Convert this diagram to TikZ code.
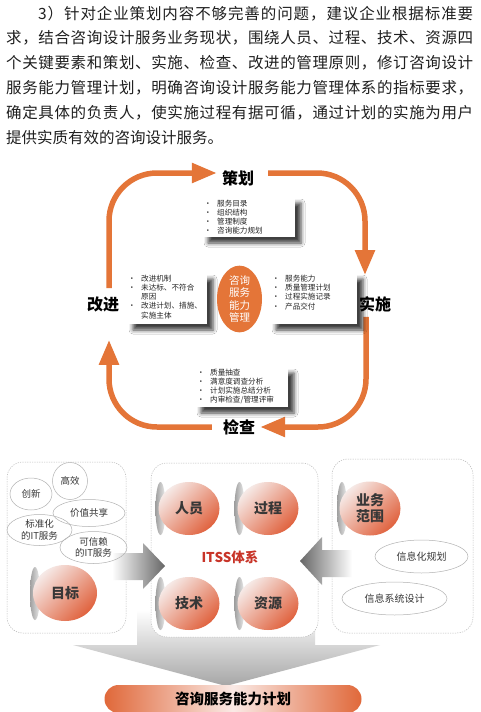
\documentclass[tikz,border=0pt]{standalone}
\usepackage{fontspec}
\setmainfont{Noto Sans CJK SC}
\usetikzlibrary{shapes.geometric,arrows.meta,shadows.blur}
\definecolor{org}{RGB}{228,117,56}
\definecolor{bubA}{RGB}{246,234,231}
\definecolor{bubB}{RGB}{224,98,62}
\definecolor{darktext}{RGB}{55,55,55}
\definecolor{itssred}{RGB}{200,52,40}
\definecolor{pillEnd}{RGB}{224,104,58}
\definecolor{pillMid}{RGB}{250,234,230}
\newcommand\cjkglue{\hskip0pt plus 1pt\relax}
\XeTeXinterchartoks 0 1 = {\cjkglue}
\XeTeXinterchartoks 1 0 = {\cjkglue}
\XeTeXinterchartoks 1 1 = {\cjkglue}
\XeTeXinterchartoks 1 2 = {\cjkglue}
\XeTeXinterchartoks 1 3 = {\cjkglue}
\XeTeXinterchartoks 2 1 = {\cjkglue}
\XeTeXinterchartoks 3 1 = {\cjkglue}
\XeTeXinterchartoks 0 3 = {\cjkglue}
\XeTeXinterchartoks 3 0 = {\cjkglue}
\XeTeXinterchartoks 3 3 = {\cjkglue}
\XeTeXinterchartoks 0 0 = {\cjkglue}
\newcommand\parafont{\fontsize{15.5}{18}\selectfont\XeTeXinterchartokenstate=1\relax}
\newcommand\bl{\makebox[13pt][l]{\textbullet}}
\newcommand\ind{\makebox[13pt][l]{}}
\begin{document}
\begin{tikzpicture}[x=1pt,y=-1pt,
  para/.style={anchor=west, inner sep=0pt, font=\parafont, text=black!88},
  lbl/.style={font=\fontsize{16}{16}\selectfont\bfseries, inner sep=2pt, text=black},
  cyc/.style={draw=org, line width=5.5pt, rounded corners=48pt, -{Triangle[length=25pt,width=19pt]}},
  infobox/.style={fill=white, inner sep=0pt, blur shadow={shadow xshift=6pt, shadow yshift=-6pt, shadow blur radius=4pt, shadow opacity=75}},
  listtext/.style={align=left, inner sep=0pt, anchor=north west, font=\fontsize{7.6}{9.3}\selectfont, text=black!85},
  dashbox/.style={draw=gray!55, dash pattern=on 1.2pt off 1.2pt, rounded corners=16pt, fill=white, line width=0.5pt},
  oval/.style={ellipse, draw=gray!60, line width=0.5pt, inner sep=0pt, align=center, font=\fontsize{9.5}{11.5}\selectfont, text=darktext},
  bubble/.style={ellipse, minimum width=61pt, minimum height=53pt, inner sep=0pt, top color=bubA, bottom color=bubB, shading angle=45, align=center, font=\fontsize{14}{16}\selectfont\bfseries, text=darktext},
  disc/.style={ellipse, minimum width=10pt, minimum height=53pt, inner sep=0pt, left color=gray!75, right color=gray!15}
]
\useasboundingbox (0,0) rectangle (480,712);
\fill[white] (0,0) rectangle (480,712);

% paragraph
\node[para] (l1) at (38,13.3) {\makebox[435pt][s]{3）针对企业策划内容不够完善的问题，建议企业根据标准要}};
\node[para] (l2) at (6,37.8) {\makebox[467pt][s]{求，结合咨询设计服务业务现状，围绕人员、过程、技术、资源四}};
\node[para] (l3) at (6,62.5) {\makebox[467pt][s]{个关键要素和策划、实施、检查、改进的管理原则，修订咨询设计}};
\node[para] (l4) at (6,87.3) {\makebox[467pt][s]{服务能力管理计划，明确咨询设计服务能力管理体系的指标要求，}};
\node[para] (l5) at (6,112.5) {\makebox[467pt][s]{确定具体的负责人，使实施过程有据可循，通过计划的实施为用户}};
\node[para] (l6) at (6,137.5) {提供实质有效的咨询设计服务。};

% cycle labels
\node[lbl] (plan) at (238,178) {策划};
\node[lbl] (impl) at (375,304) {实施};
\node[lbl] (check) at (239,427) {检查};
\node[lbl] (improve) at (103,304) {改进};

% cycle arrows
\draw[cyc] ([xshift=6pt,yshift=6pt]improve.north) |- ([xshift=-3pt,yshift=5pt]plan.west);
\draw[cyc] ([xshift=12pt,yshift=5pt]plan.east) -| ([xshift=-10pt,yshift=19pt]impl.north);
\draw[cyc] ([xshift=-9pt,yshift=-3pt]impl.south) |- ([xshift=3pt]check.east);
\draw[cyc] ([xshift=-9pt]check.west) -| ([xshift=6pt,yshift=-26pt]improve.south);

% info boxes
\node[infobox, minimum width=93pt, minimum height=40pt] (planbox) at (248.5,217) {};
\node[listtext] (plantext) at (204,199.5) {\bl 服务目录\\\bl 组织结构\\\bl 管理制度\\\bl 咨询能力规划};
\node[infobox, minimum width=80pt, minimum height=51pt] (improvebox) at (167,298.5) {};
\node[listtext] (improvetext) at (128,274.5) {\bl 改进机制\\\bl 未达标、不符合\\\ind 原因\\\bl 改进计划、措施、\\\ind 实施主体};
\node[infobox, minimum width=87pt, minimum height=51pt] (implbox) at (313.5,298.5) {};
\node[listtext] (impltext) at (272,274.5) {\bl 服务能力\\\bl 质量管理计划\\\bl 过程实施记录\\\bl 产品交付};
\node[infobox, minimum width=93pt, minimum height=40pt] (checkbox) at (241.5,387) {};
\node[listtext] (checktext) at (197,368.5) {\bl 质量抽查\\\bl 满意度调查分析\\\bl 计划实施总结分析\\\bl 内审检查/管理评审};

% centre
\node[ellipse, fill=org, minimum width=45pt, minimum height=57pt, inner sep=0pt, text=white, align=center, font=\fontsize{10.5}{12.5}\selectfont] (core) at (239.5,299) {咨询\\服务\\能力\\管理};

% big down arrow
\shade[top color=white, bottom color=gray!70] (137,610) -- (315,610) -- (315,645) -- (380,645) -- (226,686) -- (73,645) -- (137,645) -- cycle;

% dashed boxes
\node[dashbox, minimum width=119pt, minimum height=171pt] (leftbox) at (66.5,547.5) {};
\node[dashbox, minimum width=167pt, minimum height=174pt] (midbox) at (234.5,550) {};
\node[dashbox, minimum width=141pt, minimum height=174pt] (rightbox) at (402.5,546) {};

% side arrows
\shade[left color=white, middle color=black!80, right color=black!60] (112,553) -- (143,553) -- (143,543) -- (165,566) -- (143,589) -- (143,580) -- (112,580) -- cycle;
\shade[left color=black!60, middle color=black!80, right color=white] (352,550) -- (322,550) -- (322,537) -- (300,561) -- (322,585) -- (322,577) -- (352,577) -- cycle;

% left box contents
\node[oval, minimum width=42pt, minimum height=32pt] (innov) at (31,494) {创新};
\node[oval, minimum width=35pt, minimum height=37pt] (effic) at (70,481) {高效};
\node[oval, minimum width=72pt, minimum height=27pt] (share) at (89,513) {价值共享};
\node[oval, minimum width=65pt, minimum height=31pt] (stdit) at (39.5,530) {标准化\\的IT服务};
\node[oval, minimum width=67pt, minimum height=32pt] (trustit) at (93.5,547.5) {可信赖\\的IT服务};
\node[disc] (goaldisc) at (35,593.5) {};
\node[bubble, minimum width=64pt, minimum height=56pt] (goal) at (65,593) {目标};

% middle box contents
\node[disc] (peopledisc) at (160.5,508.5) {};
\node[bubble] (people) at (189,508.5) {人员};
\node[disc] (procdisc) at (239.5,508.5) {};
\node[bubble] (proc) at (268,508.5) {过程};
\node[disc] (techdisc) at (160.5,603.5) {};
\node[bubble] (tech) at (189,603.5) {技术};
\node[disc] (resdisc) at (239.5,603.5) {};
\node[bubble] (res) at (268,603.5) {资源};
\node[font=\fontsize{13.5}{14}\selectfont\bfseries, text=itssred, inner sep=0pt] (itss) at (230,557) {ITSS体系};

% right box contents
\node[disc] (scopedisc) at (342,508.5) {};
\node[bubble, minimum height=54pt] (scope) at (370,508.5) {业务\\范围};
\node[oval, minimum width=93pt, minimum height=33pt, font=\fontsize{10}{12}\selectfont] (infoplan) at (421.5,556.5) {信息化规划};
\node[oval, minimum width=105pt, minimum height=33pt, font=\fontsize{10}{12}\selectfont] (infosys) at (394.5,598.5) {信息系统设计};

% bottom pill
\node[rounded corners=14pt, minimum width=257pt, minimum height=28pt, inner sep=0pt, left color=pillEnd, right color=pillEnd, middle color=pillMid, font=\fontsize{14.5}{15}\selectfont\bfseries, text=black] (pill) at (233,699) {咨询服务能力计划};
\end{tikzpicture}
\end{document}
